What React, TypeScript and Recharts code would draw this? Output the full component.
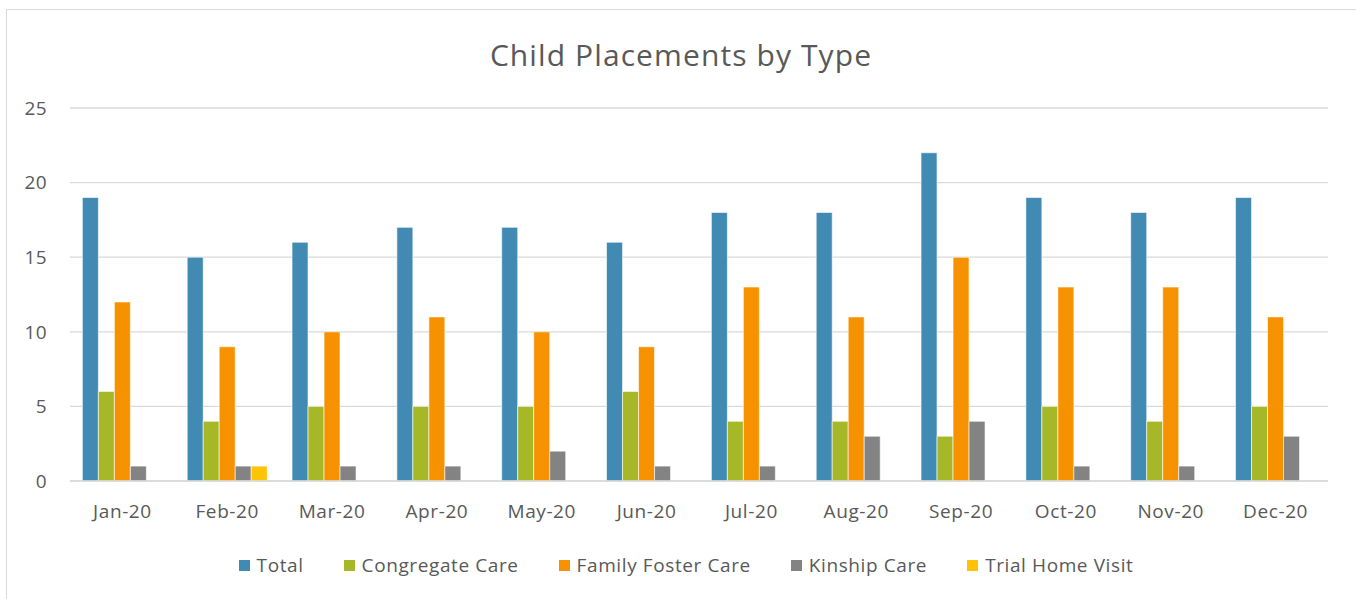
import React from "react";
import { BarChart, Bar, XAxis, YAxis, CartesianGrid } from "recharts";

const months = ["Jan-20", "Feb-20", "Mar-20", "Apr-20", "May-20", "Jun-20", "Jul-20", "Aug-20", "Sep-20", "Oct-20", "Nov-20", "Dec-20"];
const total = [19, 15, 16, 17, 17, 16, 18, 18, 22, 19, 18, 19];
const congregate = [6, 4, 5, 5, 5, 6, 4, 4, 3, 5, 4, 5];
const familyFoster = [12, 9, 10, 11, 10, 9, 13, 11, 15, 13, 13, 11];
const kinship = [1, 1, 1, 1, 2, 1, 1, 3, 4, 1, 1, 3];
const trialHome = [0, 1, 0, 0, 0, 0, 0, 0, 0, 0, 0, 0];
const yTicks = [0, 5, 10, 15, 20, 25];

const series = [
  { key: "total", name: "Total", color: "#418AB3" },
  { key: "congregate", name: "Congregate Care", color: "#A6B727" },
  { key: "family", name: "Family Foster Care", color: "#F69200" },
  { key: "kinship", name: "Kinship Care", color: "#838383" },
  { key: "trial", name: "Trial Home Visit", color: "#FEC306" },
];

const data = months.map((m, i) => ({
  month: m,
  total: total[i],
  congregate: congregate[i],
  family: familyFoster[i],
  kinship: kinship[i],
  trial: trialHome[i],
}));

const FONT = "'Open Sans', Lato, sans-serif";
const TEXT = "#595959";

export default function App() {
  return (
    <div style={{ position: "absolute", left: 0, top: 0, width: 1356, height: 599, overflow: "hidden", background: "#fff" }}>
      <div style={{ position: "absolute", left: 6, top: 9, width: 1500, height: 800, border: "1px solid #d9d9d9" }} />
      <div style={{ position: "absolute", left: 0, top: 34, width: 1362, textAlign: "center", fontFamily: FONT, fontSize: 30, letterSpacing: 1.1, color: TEXT, lineHeight: "42px" }}>
        Child Placements by Type
      </div>
      <div style={{ position: "absolute", left: 0, top: 0 }}>
        <BarChart
          width={1356}
          height={599}
          data={data}
          margin={{ top: 108, right: 28, bottom: 88, left: 30 }}
          barCategoryGap="11.8%"
          barGap={0}
        >
          <CartesianGrid vertical={false} stroke="#d9d9d9" strokeWidth={1.3} />
          <XAxis
            dataKey="month"
            height={30}
            axisLine={{ stroke: "#d9d9d9", strokeWidth: 1.5 }}
            tickLine={false}
            tickSize={0}
            tickMargin={24}
            tick={{ fill: TEXT, fontSize: 19, fontFamily: FONT, letterSpacing: 0.6 }}
            interval={0}
          />
          <YAxis
            width={40}
            domain={[0, 25]}
            ticks={yTicks}
            axisLine={false}
            tickLine={false}
            tickSize={0}
            tickMargin={23}
            tick={{ fill: TEXT, fontSize: 19, fontFamily: FONT, letterSpacing: 0.4 }}
          />
          {series.map((s) => (
            <Bar key={s.key} dataKey={s.key} name={s.name} fill={s.color} stroke="#ffffff" strokeWidth={0.6} isAnimationActive={false} />
          ))}
        </BarChart>
      </div>
      <div style={{ position: "absolute", left: 0, top: 551, width: 1372, display: "flex", justifyContent: "center", alignItems: "center", fontFamily: FONT, fontSize: 19, letterSpacing: 0.6, color: TEXT, lineHeight: "28px" }}>
        {series.map((s) => (
          <div key={s.key} style={{ display: "flex", alignItems: "center", margin: "0 20px" }}>
            <span style={{ display: "inline-block", width: 11, height: 11, background: s.color, marginRight: 7 }} />
            <span>{s.name}</span>
          </div>
        ))}
      </div>
    </div>
  );
}
